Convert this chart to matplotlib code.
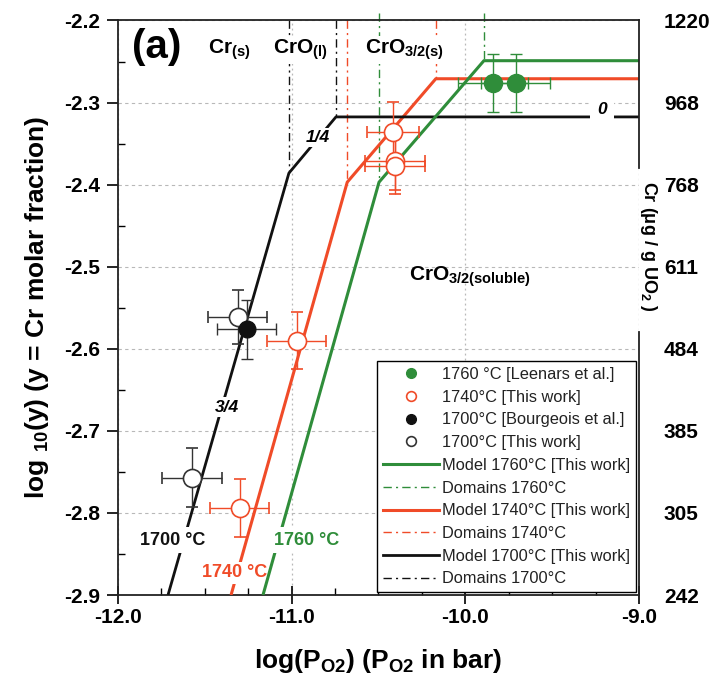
import numpy as np
import matplotlib
matplotlib.use("Agg")
import matplotlib.pyplot as plt
from matplotlib.lines import Line2D
from matplotlib.ticker import FormatStrFormatter, MultipleLocator

plt.rcParams['font.family'] = ['Liberation Sans', 'DejaVu Sans']
plt.rcParams['mathtext.fontset'] = 'custom'
plt.rcParams['mathtext.rm'] = 'Liberation Sans:bold'
plt.rcParams['mathtext.bf'] = 'Liberation Sans:bold'
plt.rcParams['mathtext.it'] = 'Liberation Sans:bold:italic'
plt.rcParams['axes.unicode_minus'] = False

GREEN = '#2f8d3a'
RED = '#f04b28'
BLACK = '#111111'

# model curves: log(pO2) vs log10(y)
m1760_x = [-11.165, -10.497, -9.893, -9.0]
m1760_y = [-2.9, -2.397, -2.249, -2.249]
m1740_x = [-11.349, -10.68, -10.17, -9.0]
m1740_y = [-2.9, -2.397, -2.271, -2.271]
m1700_x = [-11.712, -11.016, -10.745, -9.0]
m1700_y = [-2.9, -2.386, -2.3175, -2.3175]

# domain boundaries (x) and where they stop (y)
dom1760_x = [-10.497, -9.893]
dom1760_y = [-2.397, -2.249]
dom1740_x = [-10.68, -10.17]
dom1740_y = [-2.397, -2.271]
dom1700_x = [-11.016, -10.745]
dom1700_y = [-2.386, -2.3175]

# experimental points
leen_x = [-9.84, -9.71]
leen_y = [-2.276, -2.276]
leen_xerr = [0.2, 0.2]
leen_yerr = [0.035, 0.035]

tw1740_x = [-10.417, -10.405, -10.405, -10.97, -11.298]
tw1740_y = [-2.336, -2.371, -2.377, -2.59, -2.794]
tw1740_xerr = [0.15, 0.17, 0.17, 0.17, 0.17]
tw1740_yerr = [0.037, 0.035, 0.035, 0.035, 0.035]

bourg_x = [-11.26]
bourg_y = [-2.576]
bourg_xerr = [0.17]
bourg_yerr = [0.036]

tw1700_x = [-11.31, -11.574]
tw1700_y = [-2.561, -2.757]
tw1700_xerr = [0.17, 0.17]
tw1700_yerr = [0.033, 0.036]

yticks = [-2.9, -2.8, -2.7, -2.6, -2.5, -2.4, -2.3, -2.2]
right_labels = ['242', '305', '385', '484', '611', '768', '968', '1220']
xticks = [-12.0, -11.0, -10.0, -9.0]

fig = plt.figure(figsize=(7.13, 6.78), dpi=100)
ax = fig.add_axes([0.1655, 0.1224, 0.7307, 0.8474])
ax.set_xlim(-12, -9)
ax.set_ylim(-2.9, -2.2)

ax.yaxis.grid(True, color='#b8b8b8', ls=(0, (3, 3)), lw=0.8)
ax.xaxis.grid(True, color='#b8b8b8', ls=(0, (1.5, 2.5)), lw=0.9)
ax.set_axisbelow(True)

# domain lines
for dx, dy, c in [(dom1760_x, dom1760_y, GREEN), (dom1740_x, dom1740_y, RED), (dom1700_x, dom1700_y, BLACK)]:
    top = -2.1915 if c == GREEN else -2.2
    for xv, yv in zip(dx, dy):
        ax.plot([xv, xv], [top, yv], color=c, lw=1, ls=(0, (6, 3, 1.5, 3)), zorder=2, clip_on=False)

# model lines
ax.plot(m1760_x, m1760_y, color=GREEN, lw=2.2, zorder=5, solid_capstyle='butt')
ax.plot(m1740_x, m1740_y, color=RED, lw=2.2, zorder=3, solid_capstyle='butt')
ax.plot(m1700_x, m1700_y, color=BLACK, lw=2.0, zorder=3, solid_capstyle='butt')

# points
ax.errorbar(leen_x, leen_y, xerr=leen_xerr, yerr=leen_yerr, fmt='o', ms=13, color=GREEN,
            ecolor=GREEN, elinewidth=1, capsize=4, zorder=10)
ax.errorbar(tw1740_x, tw1740_y, xerr=tw1740_xerr, yerr=tw1740_yerr, fmt='o', ms=13, mfc='white',
            mec=RED, mew=1.2, ecolor=RED, elinewidth=1, capsize=4, zorder=10)
ax.errorbar(bourg_x, bourg_y, xerr=bourg_xerr, yerr=bourg_yerr, fmt='o', ms=12, color=BLACK,
            ecolor='#333333', elinewidth=1, capsize=4, zorder=11)
ax.errorbar(tw1700_x, tw1700_y, xerr=tw1700_xerr, yerr=tw1700_yerr, fmt='o', ms=13, mfc='white',
            mec='#333333', mew=1.2, ecolor='#333333', elinewidth=1, capsize=4, zorder=10)

wbox = dict(fc='white', ec='none', pad=1.5)
ax.text(-10.849, -2.343, '1/4', fontsize=12.5, fontweight='bold', style='italic', ha='center', va='center', bbox=wbox, zorder=4)
ax.text(-11.372, -2.671, '3/4', fontsize=12.5, fontweight='bold', style='italic', ha='center', va='center', bbox=wbox, zorder=4)
ax.text(-9.214, -2.309, '0', fontsize=12.5, fontweight='bold', style='italic', ha='center', va='center',
        bbox=dict(fc='white', ec='none', pad=5), zorder=4)
ax.text(-11.683, -2.833, '1700 °C', fontsize=13, fontweight='bold', color=BLACK, ha='center', va='center', bbox=dict(fc='white', ec='none', pad=3), zorder=4)
ax.text(-11.326, -2.873, '1740 °C', fontsize=13, fontweight='bold', color=RED, ha='center', va='center', bbox=dict(fc='white', ec='none', pad=2), zorder=4)
ax.text(-10.912, -2.833, '1760 °C', fontsize=13, fontweight='bold', color=GREEN, ha='center', va='center', bbox=dict(fc='white', ec='none', pad=3), zorder=6)

# phase domain labels
ax.text(-11.78, -2.232, '(a)', fontsize=29, fontweight='bold', ha='center', va='center', zorder=6)
ax.text(-11.36, -2.236, r'Cr$_{\mathrm{(s)}}$', fontsize=15, fontweight='bold', ha='center', va='center', bbox=dict(fc='white', ec='none', pad=1), zorder=6)
ax.text(-10.95, -2.236, r'CrO$_{\mathrm{(l)}}$', fontsize=15, fontweight='bold', ha='center', va='center', bbox=dict(fc='white', ec='none', pad=1), zorder=6)
ax.text(-10.348, -2.236, r'CrO$_{\mathrm{3/2(s)}}$', fontsize=15, fontweight='bold', ha='center', va='center', bbox=dict(fc='white', ec='none', pad=1), zorder=6)
ax.text(-9.97, -2.512, r'CrO$_{\mathrm{3/2(soluble)}}$', fontsize=15, fontweight='bold', ha='center', va='center', zorder=6)

# ticks
ax.set_xticks(xticks)
ax.xaxis.set_major_formatter(FormatStrFormatter('%.1f'))
ax.xaxis.set_minor_locator(MultipleLocator(0.25))
ax.set_yticks(yticks)
ax.yaxis.set_major_formatter(FormatStrFormatter('%.1f'))
ax.yaxis.set_minor_locator(MultipleLocator(0.05))
ax.tick_params(axis='x', which='major', direction='inout', length=13, width=1.2, labelsize=15, pad=3)
ax.tick_params(axis='x', which='minor', direction='in', length=5, width=1)
ax.tick_params(axis='y', which='major', direction='out', length=8, width=1.2, labelsize=15, pad=5)
ax.tick_params(axis='y', which='minor', direction='in', length=5, width=1)
for lab in ax.get_xticklabels() + ax.get_yticklabels():
    lab.set_fontweight('bold')
for s in ax.spines.values():
    s.set_linewidth(1.3)
    s.set_color('#222222')

# right spine broken around the label
ax.spines['right'].set_visible(False)
ax.axvline(-9.0, ymin=0, ymax=(595 - 332) / 574.5, color='#222222', lw=1.3, clip_on=False, zorder=12)
ax.axvline(-9.0, ymin=(595 - 168) / 574.5, ymax=1, color='#222222', lw=1.3, clip_on=False, zorder=12)

ax.set_xlabel(r'log(P$_{\mathrm{O2}}$) (P$_{\mathrm{O2}}$ in bar)', fontsize=19, fontweight='bold', labelpad=14)
ax.set_ylabel(r'log $_{10}$(y) (y = Cr molar fraction)', fontsize=19, fontweight='bold', labelpad=9)

# right axis in ug/g UO2
ax2 = ax.twinx()
ax2.set_ylim(-2.9, -2.2)
ax2.set_yticks(yticks)
ax2.set_yticklabels(right_labels, fontsize=15, fontweight='bold')
ax2.tick_params(axis='y', length=0, pad=18)
for s in ax2.spines.values():
    s.set_visible(False)
ax2.text(1.018, 0.607, r'Cr ($\mathrm{\mu}$g / g UO$_2$ )', rotation=270, transform=ax.transAxes,
         ha='center', va='center', fontsize=13, fontweight='bold', zorder=20, clip_on=False)

# legend
handles = [
    Line2D([], [], ls='none', marker='o', ms=7, mfc=GREEN, mec=GREEN),
    Line2D([], [], ls='none', marker='o', ms=7, mfc='white', mec=RED, mew=1.2),
    Line2D([], [], ls='none', marker='o', ms=7, mfc=BLACK, mec=BLACK),
    Line2D([], [], ls='none', marker='o', ms=7, mfc='white', mec='#333333', mew=1.2),
    Line2D([], [], color=GREEN, lw=2.2),
    Line2D([], [], color=GREEN, lw=1, ls=(0, (6, 3, 1.5, 3))),
    Line2D([], [], color=RED, lw=2.2),
    Line2D([], [], color=RED, lw=1, ls=(0, (6, 3, 1.5, 3))),
    Line2D([], [], color=BLACK, lw=2.0),
    Line2D([], [], color=BLACK, lw=1, ls=(0, (6, 3, 1.5, 3))),
]
labels = ['1760 °C [Leenars et al.]', '1740°C [This work]', '1700°C [Bourgeois et al.]',
          '1700°C [This work]', 'Model 1760°C [This work]', 'Domains 1760°C',
          'Model 1740°C [This work]', 'Domains 1740°C', 'Model 1700°C [This work]', 'Domains 1700°C']
leg = ax2.legend(handles, labels, loc='lower right', bbox_to_anchor=(0.994, 0.005), fancybox=False,
                 edgecolor='black', framealpha=1, fontsize=11.8, handlelength=3.4, handletextpad=0.2,
                 labelspacing=0.47, borderpad=0.35, borderaxespad=0)
leg.get_frame().set_linewidth(1.0)
for t in leg.get_texts():
    t.set_color('#222222')

fig.savefig('out.png', dpi=100)
